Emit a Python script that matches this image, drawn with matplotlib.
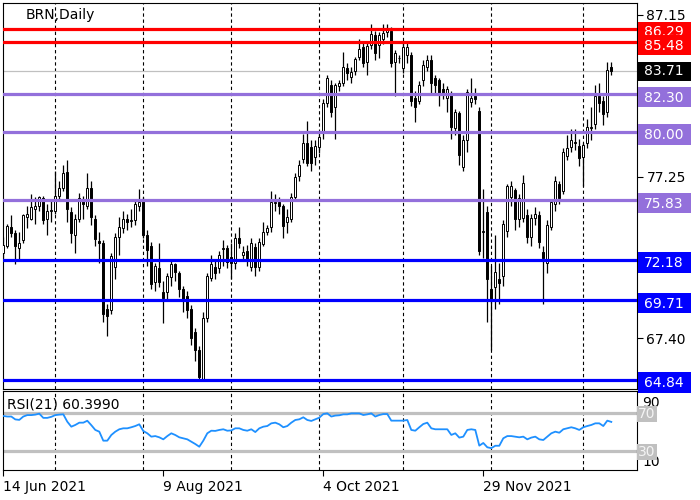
import numpy as np
import pandas as pd
import matplotlib
matplotlib.use('Agg')
import matplotlib.pyplot as plt
from matplotlib.patches import Rectangle
import matplotlib.transforms as mtransforms

plt.rcParams['font.family'] = ['DejaVu Sans']

# ---------------- data ----------------
start_date = '2021-06-14'
opens = [72.6, 73.0, 74.2, 73.8, 72.9, 73.4, 74.8, 74.7, 75.3, 75.5,
         75.95, 74.7, 75.15, 75.2, 76.1, 76.6, 77.55, 75.1, 73.7, 74.7,
         75.9, 75.5, 76.6, 74.7, 73.35, 73.2, 69.2, 69.1, 71.75, 73.6,
         74.1, 74.7, 74.55, 74.6, 75.5, 75.8, 73.7, 73.0, 70.8, 71.7,
         70.2, 70.2, 71.15, 71.9, 71.4, 70.4, 69.95, 69.2, 67.8, 66.7,
         64.9, 68.6, 71.1, 71.75, 71.7, 72.85, 72.9, 72.35, 72.0, 73.5,
         72.5, 72.7, 71.75, 72.95, 71.75, 73.15, 73.9, 74.2, 75.65, 75.7,
         75.45, 74.5, 74.7, 76.0, 77.3, 78.35, 79.3, 79.1, 78.5, 79.1,
         80.0, 81.8, 82.9, 81.5, 82.8, 83.0, 83.9, 83.35, 83.7, 84.6,
         85.2, 84.3, 85.3, 85.95, 85.3, 85.7, 86.1, 86.2, 84.3, 84.5,
         83.9, 84.7, 84.7, 82.1, 81.9, 83.2, 84.0, 84.4, 83.3, 83.2,
         82.6, 82.1, 82.3, 80.25, 81.15, 77.85, 79.5, 81.85, 82.2, 81.3,
         73.9, 75.1, 70.4, 70.5, 71.0, 71.2, 73.95, 76.0, 76.45, 74.7,
         74.75, 74.9, 73.6, 74.75, 74.9, 72.65, 72.0, 74.2, 75.6, 76.8,
         76.4, 78.55, 79.1, 79.4, 79.15, 78.5, 79.3, 80.25, 80.5, 82.2,
         81.9, 81.2, 83.95]
highs = [73.6, 74.4, 74.9, 74.0, 73.9, 75.0, 75.5, 76.2, 76.0, 76.1,
         76.1, 75.6, 75.8, 77.6, 77.0, 78.0, 78.3, 75.4, 75.0, 76.3,
         76.1, 77.5, 77.0, 74.9, 73.9, 73.4, 69.5, 72.6, 73.8, 74.8,
         75.2, 75.0, 75.3, 75.8, 76.5, 76.0, 74.0, 73.3, 72.0, 73.2,
         70.9, 71.4, 72.1, 72.0, 71.5, 70.6, 70.3, 69.4, 68.0, 66.9,
         69.0, 71.4, 72.5, 72.1, 72.7, 73.4, 73.1, 73.2, 73.8, 74.2,
         73.0, 73.1, 73.5, 73.2, 73.5, 74.5, 74.3, 76.4, 76.2, 76.0,
         75.6, 75.3, 76.3, 77.5, 78.3, 79.9, 80.7, 79.5, 79.5, 80.0,
         82.0, 83.5, 83.2, 83.0, 83.2, 84.9, 84.2, 84.0, 84.6, 85.7,
         85.5, 85.5, 86.6, 86.2, 86.1, 86.6, 86.6, 86.4, 85.0, 84.7,
         85.5, 85.5, 84.9, 82.5, 83.1, 84.4, 84.7, 84.7, 83.5, 83.3,
         83.0, 82.8, 82.5, 81.4, 81.3, 79.8, 82.6, 83.3, 82.7, 81.5,
         76.5, 75.5, 71.8, 73.7, 72.0, 74.6, 76.8, 77.0, 76.6, 76.2,
         77.4, 75.3, 75.0, 75.4, 75.2, 73.0, 74.6, 75.9, 77.3, 77.0,
         79.0, 79.8, 80.2, 80.2, 79.6, 79.3, 80.8, 81.5, 82.9, 83.0,
         82.2, 84.3, 84.3]
lows = [72.3, 72.9, 73.6, 71.9, 72.1, 73.2, 74.1, 74.6, 74.4, 75.2,
        74.4, 73.7, 74.5, 75.0, 75.9, 76.4, 74.5, 73.2, 72.6, 74.5,
        74.7, 75.3, 74.3, 73.0, 72.0, 68.4, 67.5, 68.9, 71.0, 72.5,
        73.8, 74.0, 74.2, 74.3, 75.2, 73.5, 71.8, 70.4, 70.3, 70.5,
        68.3, 69.8, 70.6, 70.9, 69.9, 69.0, 68.6, 67.0, 66.0, 64.9,
        64.8, 68.4, 70.9, 71.0, 71.4, 71.8, 71.7, 71.0, 71.6, 72.9,
        72.2, 71.8, 71.5, 71.2, 71.5, 73.0, 73.7, 73.9, 75.2, 75.0,
        73.5, 73.8, 74.5, 75.8, 77.0, 78.1, 77.9, 77.6, 78.0, 78.7,
        79.6, 81.5, 80.9, 79.6, 82.5, 82.8, 83.2, 83.0, 83.5, 84.4,
        84.0, 83.5, 85.1, 84.4, 84.5, 85.4, 85.8, 84.0, 82.2, 84.2,
        83.6, 84.2, 81.6, 80.6, 81.7, 82.8, 83.7, 82.3, 82.4, 81.6,
        82.0, 81.2, 79.6, 79.8, 78.0, 77.6, 78.8, 81.5, 81.7, 72.5,
        72.3, 68.4, 66.7, 69.2, 69.5, 70.6, 73.6, 75.5, 74.0, 74.2,
        74.5, 73.2, 73.0, 74.3, 72.9, 69.5, 71.4, 74.0, 75.2, 75.6,
        76.2, 78.3, 78.8, 78.9, 77.9, 76.7, 79.0, 79.5, 80.2, 81.2,
        80.4, 80.9, 83.5]
closes = [73.1, 74.25, 73.8, 73.0, 73.2, 74.9, 75.0, 75.4, 75.5, 76.0,
          74.6, 75.2, 75.25, 76.1, 76.6, 77.5, 75.3, 73.8, 74.7, 75.95,
          75.6, 76.6, 74.8, 73.45, 73.2, 68.9, 68.75, 72.4, 73.6, 74.2,
          74.7, 74.5, 74.6, 75.6, 75.7, 73.7, 72.8, 70.7, 71.8, 70.8,
          69.85, 71.2, 71.9, 71.45, 70.4, 69.7, 69.1, 67.4, 66.7, 65.0,
          68.6, 71.2, 71.9, 71.4, 72.5, 72.9, 72.05, 72.0, 73.5, 73.2,
          72.65, 72.2, 73.2, 71.75, 73.3, 73.9, 74.1, 75.7, 75.7, 75.45,
          74.25, 74.8, 76.0, 77.25, 78.0, 79.3, 78.1, 78.1, 79.15, 79.7,
          81.8, 83.3, 81.2, 82.9, 83.0, 84.0, 83.6, 83.65, 84.45, 85.1,
          84.2, 85.25, 86.0, 84.8, 85.95, 86.05, 86.35, 84.2, 84.8, 84.5,
          85.2, 85.2, 81.9, 81.5, 82.9, 84.1, 84.4, 83.0, 82.9, 82.4,
          82.4, 82.6, 80.3, 81.2, 78.6, 79.5, 82.45, 82.1, 82.0, 72.7,
          73.95, 71.0, 69.8, 71.45, 70.75, 74.4, 76.7, 76.7, 74.7, 75.95,
          76.9, 73.6, 74.75, 75.0, 73.3, 72.3, 74.3, 75.7, 77.0, 75.95,
          78.8, 79.0, 79.5, 79.3, 78.4, 79.2, 80.3, 80.3, 82.2, 81.8,
          81.1, 83.8, 83.71]
rsi = [66.6, 66.0, 66.0, 63.0, 62.5, 66.0, 67.5, 67.5, 68.0, 69.0,
       64.6, 64.6, 65.7, 67.5, 68.0, 68.3, 60.6, 55.4, 57.2, 59.6,
       59.6, 61.6, 57.0, 52.0, 50.2, 40.8, 40.8, 46.7, 50.2, 52.7,
       53.7, 53.7, 54.8, 56.1, 57.9, 50.9, 48.5, 45.0, 45.6, 44.3,
       42.2, 45.6, 48.5, 46.7, 44.3, 43.3, 42.2, 39.7, 37.3, 34.5,
       40.8, 48.5, 51.2, 51.0, 52.0, 52.7, 51.2, 51.5, 53.7, 53.7,
       52.0, 51.2, 52.7, 49.8, 53.7, 55.4, 56.1, 58.9, 59.6, 57.9,
       54.8, 56.1, 59.6, 62.4, 63.1, 65.2, 62.4, 61.4, 63.1, 64.8,
       68.6, 69.3, 66.0, 67.0, 67.3, 68.3, 68.3, 69.3, 69.3, 69.3,
       67.6, 68.3, 69.3, 66.0, 67.6, 68.6, 68.6, 61.7, 61.7, 61.7,
       61.7, 62.4, 52.0, 51.2, 54.8, 58.2, 59.6, 53.7, 52.7, 52.7,
       52.7, 52.7, 46.8, 48.5, 44.0, 45.0, 52.0, 52.7, 52.0, 35.6,
       38.4, 33.9, 33.0, 35.5, 35.5, 43.3, 45.6, 45.6, 45.0, 44.3,
       45.0, 42.2, 44.0, 45.0, 42.2, 41.5, 45.0, 48.5, 50.2, 49.1,
       52.7, 53.7, 54.8, 53.7, 52.0, 54.8, 56.1, 57.2, 58.9, 58.9,
       56.1, 61.7, 60.4]

level_values = [86.29, 85.48, 82.30, 80.00, 75.83, 72.18, 69.71, 64.84]
level_colors = ['#FF0000', '#FF0000', '#9370DB', '#9370DB', '#9370DB',
                '#0000FF', '#0000FF', '#0000FF']
current_price = 83.71
price_ticks = [87.15, 77.25, 67.40]
rsi_levels = [70, 30]
rsi_scale = [90, 10]
date_labels = ['14 Jun 2021', '9 Aug 2021', '4 Oct 2021', '29 Nov 2021']
title = 'BRN,Daily'
rsi_title = 'RSI(21) 60.3990'

# ---------------- figure ----------------
W, H = 700, 500
fig = plt.figure(figsize=(7, 5), dpi=100)
fig.patch.set_facecolor('white')


def fx(px):
    return px / W


def fy(py):
    return 1 - py / H


ax = fig.add_axes([fx(2.7), fy(389), fx(634), (389 - 2.7) / H])
rx = fig.add_axes([fx(2.7), fy(470), fx(634), (470 - 391) / H])

o = np.array(opens)
h = np.array(highs)
l = np.array(lows)
c = np.array(closes)
n = len(c)
x = np.arange(n)
dates = pd.bdate_range(start_date, periods=n)

px_per_unit = 16.36
top_price = 87.15 + (15 - 2.7) / px_per_unit
bot_price = top_price - (389 - 2.7) / px_per_unit
xmin, xmax = (2.7 - 3.3) / 4, (636.7 - 3.3) / 4

# month-start dashed grid
month_starts = [i for i in range(1, n) if dates[i].month != dates[i - 1].month]
for a in (ax, rx):
    for i in month_starts:
        a.axvline(i, color='black', lw=0.8, ls=(0, (3, 2.5)), zorder=1)

# candles
up = c >= o
ax.vlines(x, l, h, color='black', lw=0.9, zorder=2)
ax.bar(x, np.maximum(np.abs(c - o), 0.03), bottom=np.minimum(o, c), width=0.55,
       color=np.where(up, 'white', 'black'), edgecolor='black', linewidth=0.7, zorder=3)

ax.axhline(current_price, color='#C0C0C0', lw=0.9, zorder=1.5)
for v, col in zip(level_values, level_colors):
    ax.axhline(v, color=col, lw=2.3, zorder=4)

ax.set_xlim(xmin, xmax)
ax.set_ylim(bot_price, top_price)
ax.set_xticks([])
ax.yaxis.tick_right()
ax.set_yticks(price_ticks)
ax.set_yticklabels([f'{v:.2f}' for v in price_ticks])
ax.tick_params(axis='y', length=4, width=0.8, pad=3, labelsize=10, colors='black')
for s in ax.spines.values():
    s.set_linewidth(0.8)
    s.set_color('black')

ax.text(fx(26), fy(15), title, transform=fig.transFigure, fontsize=10,
        va='center', ha='left', color='black')

# right-side level labels
blend = mtransforms.blended_transform_factory(fig.transFigure, ax.transData)
z = 10
for v, col in zip(level_values, level_colors):
    bottom = v - 12.7 / px_per_unit
    height = 20.2 / px_per_unit
    fig.add_artist(Rectangle((fx(638), bottom), fx(53), height, transform=blend,
                             facecolor=col, edgecolor='none', zorder=z))
    fig.text(fx(644), v - 3.4 / px_per_unit, f'{v:.2f}', transform=blend, fontsize=10,
             va='center', ha='left', color='white', zorder=z + 1)
    z += 2
fig.add_artist(Rectangle((fx(638), current_price - 9.5 / px_per_unit), fx(53),
                         19 / px_per_unit, transform=blend, facecolor='black',
                         edgecolor='none', zorder=z))
fig.text(fx(644), current_price, f'{current_price:.2f}', transform=blend, fontsize=10,
         va='center', ha='left', color='white', zorder=z + 1)

# ---------------- RSI panel ----------------
rsi_px = 0.958
rsi_top = 70 + (412.7 - 391) / rsi_px
rsi_bot = rsi_top - (470 - 391) / rsi_px
for lv in rsi_levels:
    rx.axhline(lv, color='#C0C0C0', lw=2.3, zorder=2)
rx.plot(x, rsi, color='#1E90FF', lw=1.3, zorder=3)
rx.set_xlim(xmin, xmax)
rx.set_ylim(rsi_bot, rsi_top)
rx.set_yticks([])
tick_idx = [int(np.where(dates.strftime('%-d %b %Y') == d)[0][0]) for d in date_labels]
rx.set_xticks(tick_idx)
rx.set_xticklabels(date_labels, ha='left')
rx.tick_params(axis='x', length=4, width=0.8, pad=3, labelsize=10, colors='black')
for s in rx.spines.values():
    s.set_linewidth(0.8)
    s.set_color('black')
rx.text(fx(7), fy(405), rsi_title, transform=fig.transFigure, fontsize=10,
        va='center', ha='left', color='black')

rblend = mtransforms.blended_transform_factory(fig.transFigure, rx.transData)
fig.text(fx(642), 80.3, str(rsi_scale[0]), transform=rblend, fontsize=10,
         va='center', ha='left', color='black', zorder=5)
fig.text(fx(642), 18.5, str(rsi_scale[1]), transform=rblend, fontsize=10,
         va='center', ha='left', color='black', zorder=5)
for lv in rsi_levels:
    fig.add_artist(Rectangle((fx(637), lv - 9 / rsi_px), fx(20), 16 / rsi_px,
                             transform=rblend, facecolor='#C0C0C0', edgecolor='none', zorder=6))
    fig.text(fx(647), lv - 1 / rsi_px, str(lv), transform=rblend, fontsize=10,
             va='center', ha='center', color='#F4F4F4', zorder=7)

fig.savefig('out.png', dpi=100)
